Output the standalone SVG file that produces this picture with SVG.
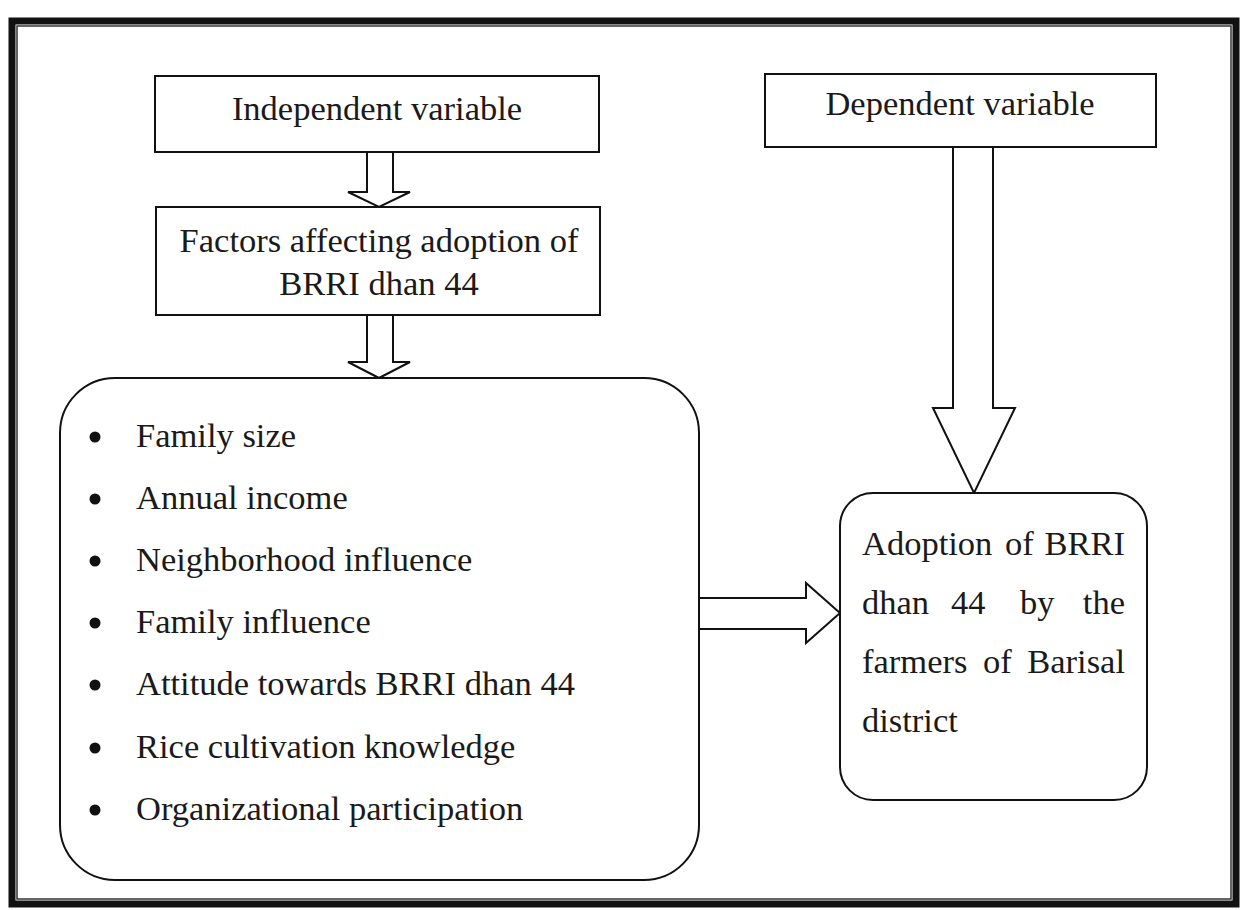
<svg xmlns="http://www.w3.org/2000/svg" width="1240" height="910" viewBox="0 0 1240 910">
<style>
.box{fill:#fff;stroke:#111;stroke-width:2}
.arr{fill:#fff;stroke:#111;stroke-width:2;stroke-linejoin:miter}
.t{font-family:'Liberation Serif','Times New Roman',serif;font-size:34.5px;fill:#1a1a1a}
.c{text-anchor:middle}
.e{text-anchor:end}
.bul{fill:#111}
</style>
<rect x="0" y="0" width="1240" height="910" fill="#fff"/>
<g id="frame">
<rect x="12" y="21" width="1224" height="883" fill="none" stroke="#111" stroke-width="7"/>
<rect x="17" y="26" width="1214" height="873" fill="none" stroke="#333" stroke-width="1.5"/>
</g>
<g id="connectors">
<polygon class="arr" points="367,152 393,152 393,192 410,192 379,207 348,192 367,192"/>
<polygon class="arr" points="367,315 393,315 393,362 410,362 379,378 348,362 367,362"/>
<polygon class="arr" points="953,147 993,147 993,408 1015,408 974,493 933,408 953,408"/>
<polygon class="arr" points="699,598 806,598 806,583 840,613 806,643 806,629 699,629"/>
</g>
<g id="independent" class="t" font-family="Liberation Serif, serif">
<rect class="box" x="155" y="76" width="444" height="76"/>
<text class="c" x="377" y="120">Independent variable</text>
</g>
<g id="factors" class="t" font-family="Liberation Serif, serif">
<rect class="box" x="156" y="207" width="444" height="108"/>
<text class="c" x="379" y="252">Factors affecting adoption of</text>
<text class="c" x="379" y="295">BRRI dhan 44</text>
</g>
<g id="list" class="t" font-family="Liberation Serif, serif">
<rect class="box" x="60" y="378" width="639" height="502" rx="55" ry="55"/>
<circle class="bul" cx="95" cy="437" r="5.5"/>
<circle class="bul" cx="95" cy="499" r="5.5"/>
<circle class="bul" cx="95" cy="561" r="5.5"/>
<circle class="bul" cx="95" cy="623" r="5.5"/>
<circle class="bul" cx="95" cy="685" r="5.5"/>
<circle class="bul" cx="95" cy="748" r="5.5"/>
<circle class="bul" cx="95" cy="810" r="5.5"/>
<text x="136" y="447">Family size</text>
<text x="136" y="509">Annual income</text>
<text x="136" y="571">Neighborhood influence</text>
<text x="136" y="633">Family influence</text>
<text x="136" y="695">Attitude towards BRRI dhan 44</text>
<text x="136" y="758">Rice cultivation knowledge</text>
<text x="136" y="820">Organizational participation</text>
</g>
<g id="dependent" class="t" font-family="Liberation Serif, serif">
<rect class="box" x="765" y="74" width="391" height="73"/>
<text class="c" x="960" y="115">Dependent variable</text>
</g>
<g id="adoption" class="t" font-family="Liberation Serif, serif">
<rect class="box" x="840" y="493" width="307" height="307" rx="33" ry="33"/>
<text x="862" y="555">Adoption</text>
<text x="1005" y="555">of</text>
<text class="e" x="1125" y="555">BRRI</text>
<text x="862" y="614">dhan</text>
<text x="951" y="614">44</text>
<text x="1020" y="614">by</text>
<text class="e" x="1125" y="614">the</text>
<text x="862" y="673">farmers</text>
<text x="983" y="673">of</text>
<text class="e" x="1125" y="673">Barisal</text>
<text x="862" y="732">district</text>
</g>
</svg>
